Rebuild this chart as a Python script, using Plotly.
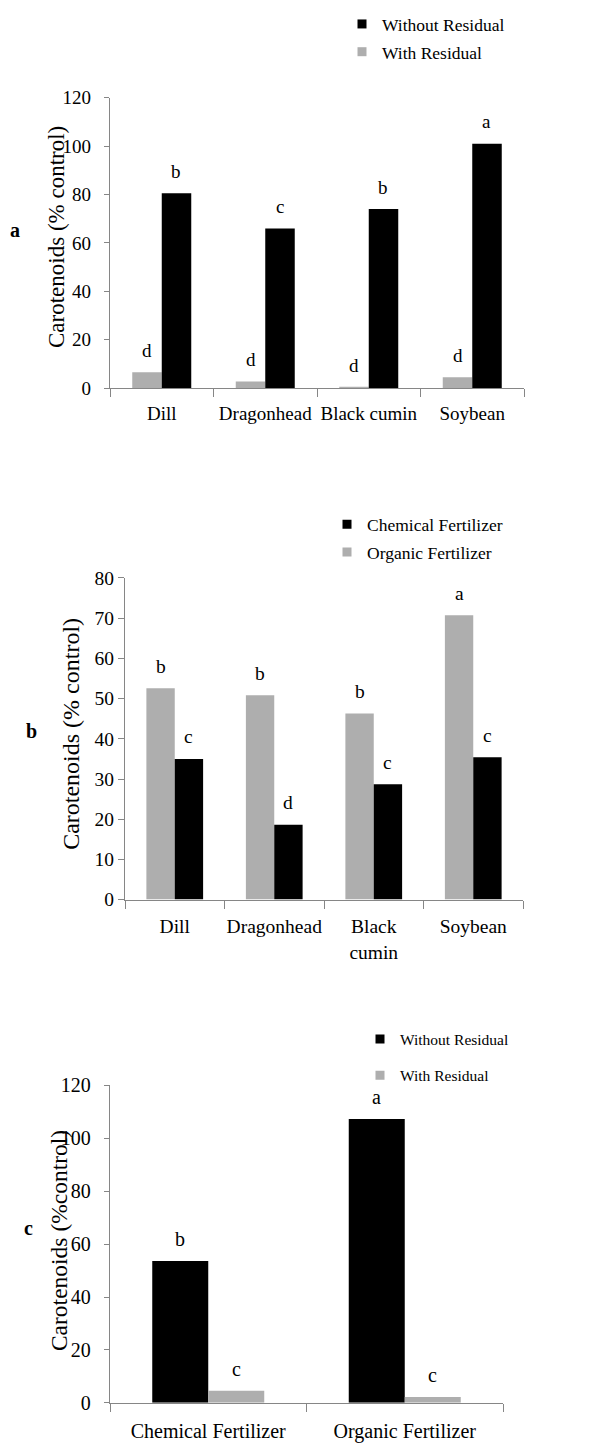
import plotly.graph_objects as go

# ---- data -------------------------------------------------------------
crops_a = ["Dill", "Dragonhead", "Black cumin", "Soybean"]
a_with_residual = [6.6, 2.8, 0.4, 4.5]
a_without_residual = [80.5, 66.0, 74.0, 101.0]
a_with_letters = ["d", "d", "d", "d"]
a_without_letters = ["b", "c", "b", "a"]

crops_b = ["Dill", "Dragonhead", "Black<br>cumin", "Soybean"]
b_organic = [52.6, 50.8, 46.3, 70.7]
b_chemical = [35.0, 18.6, 28.7, 35.4]
b_organic_letters = ["b", "b", "b", "a"]
b_chemical_letters = ["c", "d", "c", "c"]

fertilizers_c = ["Chemical Fertilizer", "Organic Fertilizer"]
c_without_residual = [53.6, 107.3]
c_with_residual = [4.6, 2.2]
c_without_letters = ["b", "a"]
c_with_letters = ["c", "c"]

# ---- styling ----------------------------------------------------------
W, H = 592, 1451
BLACK = "#000000"
GREY = "#AEAEAE"
AXIS = "#868686"
SERIF = "Liberation Serif"
BARGAP = 0.43


def px_x(p):
    return p / W


def px_y(p):
    return 1 - p / H


# plot areas in pixels: (left, right, top, bottom)
boxes = {
    "a": (110, 524, 88, 383),
    "b": (125, 523, 575.7, 902.3),
    "c": (110, 503, 1091, 1413.3),
}

fig = go.Figure()


def add_bars(idx, cats, first, second, first_col, second_col):
    xa = "x" if idx == 1 else f"x{idx}"
    ya = "y" if idx == 1 else f"y{idx}"
    for vals, col in ((first, first_col), (second, second_col)):
        fig.add_trace(go.Bar(
            x=cats, y=vals, marker=dict(color=col, line=dict(width=0)),
            xaxis=xa, yaxis=ya, showlegend=False, hoverinfo="skip",
        ))
    return xa, ya


def letter_annotations(xa, ya, cats, vals, letters, side, box, ncat, font):
    left, right, _, _ = box
    cat_w = (right - left) / ncat
    bar_w = cat_w * (1 - BARGAP) / 2
    for c, v, t in zip(cats, vals, letters):
        fig.add_annotation(
            x=c, y=v, xref=xa, yref=ya, text=t, showarrow=False,
            xshift=side * bar_w / 2, yshift=22, yanchor="middle",
            font=dict(family=SERIF, size=font, color="black"),
        )


def legend_entry(name, color, legend, rank):
    fig.add_trace(go.Scatter(
        x=[None], y=[None], mode="markers", name=name,
        marker=dict(symbol="square", size=9, color=color, line=dict(width=0)),
        legend=legend, legendgroup=name, legendrank=rank,
        hoverinfo="skip",
    ))


# panel a
xa, ya = add_bars(1, crops_a, a_with_residual, a_without_residual, GREY, BLACK)
letter_annotations(xa, ya, crops_a, a_with_residual, a_with_letters, -1,
                   boxes["a"], 4, 19)
letter_annotations(xa, ya, crops_a, a_without_residual, a_without_letters, 1,
                   boxes["a"], 4, 19)
legend_entry("Without Residual", BLACK, "legend", 1)
legend_entry("With Residual", GREY, "legend", 2)

# panel b
xb, yb = add_bars(2, crops_b, b_organic, b_chemical, GREY, BLACK)
letter_annotations(xb, yb, crops_b, b_organic, b_organic_letters, -1,
                   boxes["b"], 4, 19.5)
letter_annotations(xb, yb, crops_b, b_chemical, b_chemical_letters, 1,
                   boxes["b"], 4, 19.5)
legend_entry("Chemical Fertilizer", BLACK, "legend2", 1)
legend_entry("Organic Fertilizer", GREY, "legend2", 2)

# panel c
xc, yc = add_bars(3, fertilizers_c, c_without_residual, c_with_residual,
                  BLACK, GREY)
letter_annotations(xc, yc, fertilizers_c, c_without_residual,
                   c_without_letters, -1, boxes["c"], 2, 20)
letter_annotations(xc, yc, fertilizers_c, c_with_residual,
                   c_with_letters, 1, boxes["c"], 2, 20)
legend_entry("Without Residual", BLACK, "legend3", 1)
legend_entry("With Residual", GREY, "legend3", 2)


def xaxis_style(box, font, anchor, standoff):
    left, right, _, _ = box
    return dict(
        domain=[px_x(left), px_x(right)], anchor=anchor,
        showline=True, linecolor=AXIS, linewidth=1.3,
        ticks="outside", tickson="boundaries", ticklen=8, tickcolor=AXIS,
        tickwidth=1.3, ticklabelstandoff=standoff, tickangle=0,
        tickfont=dict(family=SERIF, size=font, color="black"),
        showgrid=False, zeroline=False, fixedrange=True,
    )


def yaxis_style(box, font, anchor, ymax, dtick, ticklen, standoff):
    _, _, top, bottom = box
    return dict(
        domain=[px_y(bottom), px_y(top)], anchor=anchor,
        range=[0, ymax], dtick=dtick, tick0=0,
        showline=True, linecolor=AXIS, linewidth=1.3,
        ticks="outside", ticklen=ticklen, tickcolor=AXIS, tickwidth=1.3,
        ticklabelstandoff=standoff,
        tickfont=dict(family=SERIF, size=font, color="black"),
        showgrid=False, zeroline=False, fixedrange=True,
    )


def legend_style(text_left, top, font, gap):
    return dict(
        x=px_x(text_left - 40), y=px_y(top), xanchor="left", yanchor="top",
        xref="paper", yref="paper", bgcolor="rgba(0,0,0,0)",
        font=dict(family=SERIF, size=font, color="black"),
        tracegroupgap=gap, borderwidth=0,
    )


fig.update_layout(
    width=W, height=H, autosize=False,
    margin=dict(l=0, r=0, t=0, b=0),
    paper_bgcolor="white", plot_bgcolor="white",
    font=dict(family=SERIF, color="black"),
    barmode="group", bargap=BARGAP, bargroupgap=0,
    xaxis=xaxis_style(boxes["a"], 19, "y", 8),
    yaxis=yaxis_style(boxes["a"], 19, "x", 120, 20, 5, 9),
    xaxis2=xaxis_style(boxes["b"], 19.5, "y2", 9),
    yaxis2=yaxis_style(boxes["b"], 19.5, "x2", 80, 10, 6, 0),
    xaxis3=xaxis_style(boxes["c"], 20, "y3", 10),
    yaxis3=yaxis_style(boxes["c"], 20, "x3", 120, 20, 5, 9),
    legend=legend_style(382, -5, 17.5, 2),
    legend2=legend_style(367, 503, 17.5, 2),
    legend3=legend_style(400, 1027, 15.5, 13),
)

# axis titles and panel letters
titles = [
    ("Carotenoids (% control)", 56, 229.5, 23),
    ("Carotenoids (% control)", 71, 734, 24),
    ("Carotenoids (%control)", 59, 1249, 23.5),
]
for text, x, y, size in titles:
    fig.add_annotation(
        x=px_x(x), y=px_y(y), xref="paper", yref="paper", text=text,
        textangle=-90, showarrow=False, xanchor="center", yanchor="middle",
        font=dict(family=SERIF, size=size, color="black"),
    )

for text, x, y in (("a", 15, 222), ("b", 31, 731), ("c", 28, 1236)):
    fig.add_annotation(
        x=px_x(x), y=px_y(y), xref="paper", yref="paper",
        text=f"<b>{text}</b>", showarrow=False,
        xanchor="center", yanchor="middle",
        font=dict(family=SERIF, size=20, color="black"),
    )

fig.write_html("out.html", config={"displayModeBar": False})
